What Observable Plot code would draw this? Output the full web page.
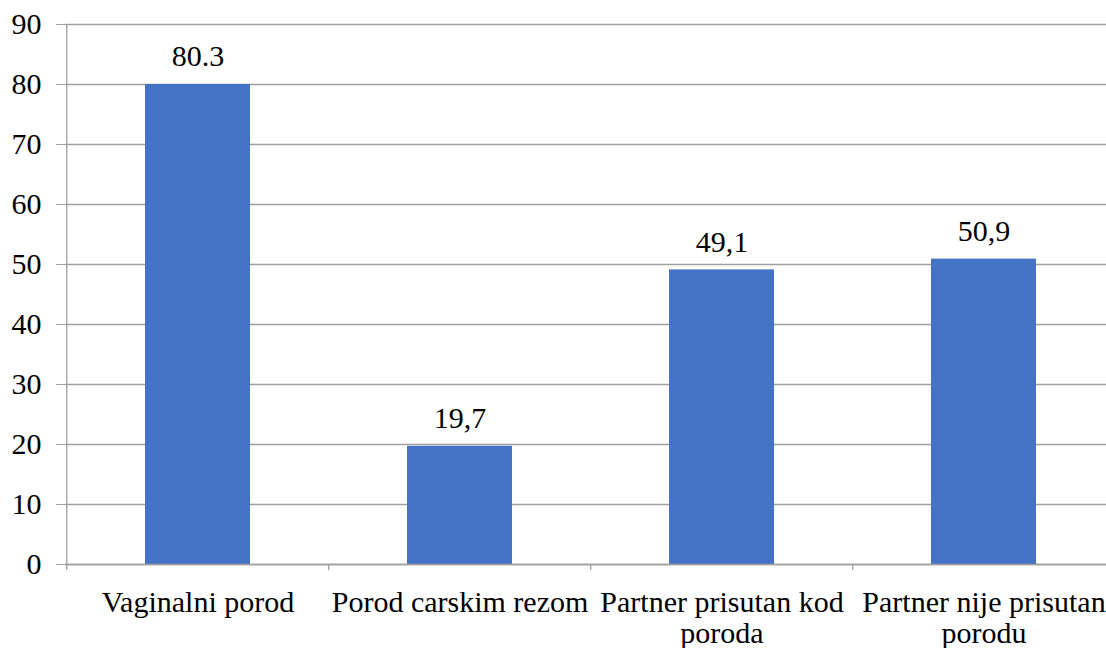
<!DOCTYPE html>
<html>
<head>
<meta charset="utf-8">
<script src="https://cdn.jsdelivr.net/npm/d3@7"></script>
<script src="https://cdn.jsdelivr.net/npm/@observablehq/plot@0.6"></script>
<style>
  html, body { margin: 0; padding: 0; background: #fff; overflow: hidden; }
  #chart svg { display: block; }
  #chart svg, #chart svg text, #chart svg tspan { font-family: "Liberation Serif", "Times New Roman", serif !important; }
</style>
</head>
<body>
<div id="chart"></div>
<script>
const categories = ["Vaginalni porod", "Porod carskim rezom", "Partner prisutan kod poroda", "Partner nije prisutan porodu"];
const tickLabels = ["Vaginalni porod", "Porod carskim rezom", "Partner prisutan kod\nporoda", "Partner nije prisutan\nporodu"];
const values = [80, 19.7, 49.1, 50.9];
const valueLabels = ["80.3", "19,7", "49,1", "50,9"];
const yTicks = [0, 10, 20, 30, 40, 50, 60, 70, 80, 90];

const data = categories.map((c, i) => ({category: c, value: values[i], label: valueLabels[i]}));

const width = 1106, height = 648;
const marginLeft = 65, marginRight = -9, marginTop = 24, marginBottom = 84;
const bandwidth = (width - marginRight - marginLeft) / categories.length;
const gridColor = "#a0a0a0";
const fs = 30;
const fontFamily = "Liberation Serif";

const chart = Plot.plot({
  width, height, marginLeft, marginRight, marginTop, marginBottom,
  style: {fontSize: fs + "px", color: "#000", background: "#fff", fontFamily},
  x: {domain: categories, paddingInner: 0.6, paddingOuter: 0.3, align: 0.5},
  y: {domain: [0, 90], ticks: yTicks, label: null},
  marks: [
    Plot.gridY(yTicks, {stroke: gridColor, strokeOpacity: 1, strokeWidth: 1.3}),
    Plot.axisY(yTicks, {tickSize: 9, tickPadding: 15, stroke: gridColor, strokeOpacity: 1, fontSize: fs, fontFamily, fill: "#000", label: null}),
    Plot.barY(data, {x: "category", y: "value", fill: "#4472C4"}),
    Plot.ruleX([categories[0]], {x: d => d, dx: -bandwidth / 2, y1: 0, y2: 90, stroke: gridColor, strokeWidth: 1.3}),
    Plot.ruleY([0], {stroke: gridColor, strokeWidth: 1.3}),
    Plot.ruleX(categories, {x: d => d, dx: -bandwidth / 2, y1: 0, y2: 0, insetBottom: -6, stroke: gridColor, strokeWidth: 1.3}),
    Plot.text(data, {x: "category", y: "value", text: "label", dy: -28, fontSize: fs, fontFamily, fill: "#000"}),
    Plot.axisX({tickSize: 0, tickPadding: 26, fontSize: fs, fontFamily, lineHeight: 1.02, fill: "#000",
      tickFormat: d => tickLabels[categories.indexOf(d)], label: null})
  ]
});
document.getElementById("chart").append(chart);
</script>
</body>
</html>
